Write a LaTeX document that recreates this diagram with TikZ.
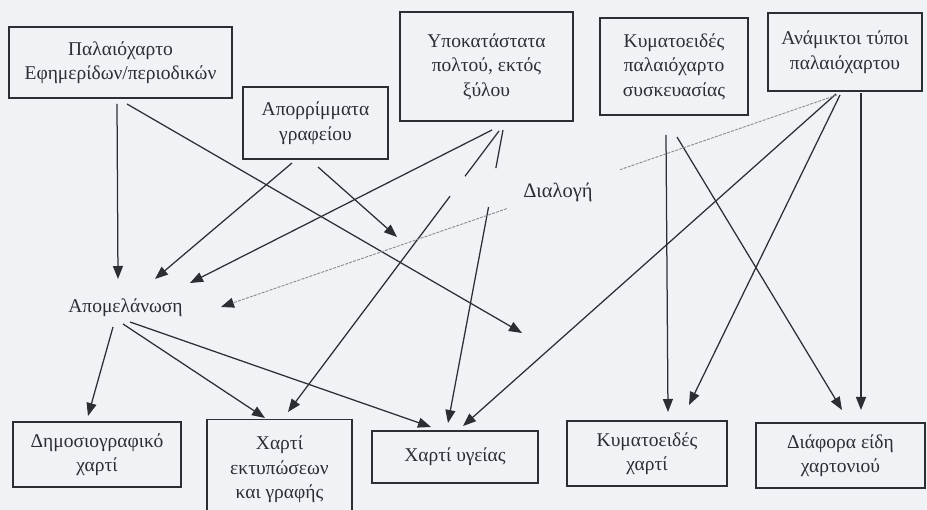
\documentclass[tikz,border=0pt]{standalone}
\usepackage{fontspec}
\setmainfont{Liberation Serif}
\usetikzlibrary{arrows.meta,calc}
\definecolor{bg}{RGB}{241,242,246}
\definecolor{ink}{RGB}{45,45,52}
\begin{document}
\begin{tikzpicture}[x=1pt,y=-1pt,
  box/.style={draw=ink,line width=1.4pt,rectangle,inner sep=0pt,align=center,text=ink,font=\fontsize{19.5}{24.5}\selectfont},
  lbl/.style={inner sep=0pt,text=ink,font=\fontsize{19.5}{24}\selectfont},
  tip/.style={-{Triangle[length=13pt,width=10pt,color=ink]}},
  ln/.style={draw=ink,line width=1.25pt},
  arr/.style={ln,tip},
  dl/.style={draw=ink!55,line width=0.9pt,dash pattern=on 3pt off 1.2pt}]
\fill[bg] (0,0) rectangle (927,510);
\useasboundingbox (0,0) rectangle (927,510);
% boxes
\node[box,minimum width=223pt,minimum height=71pt] (A) at (120.5,62.5) {Παλαιόχαρτο\\Εφημερίδων/περιοδικών};
\node[box,minimum width=145pt,minimum height=72pt] (B) at (315.5,123) {Απορρίμματα\\γραφείου};
\node[box,minimum width=173pt,minimum height=109pt] (C) at (486.5,66.5) {Υποκατάστατα\\πολτού, εκτός\\ξύλου};
\node[box,minimum width=148pt,minimum height=97pt] (D) at (674,66.5) {Κυματοειδές\\παλαιόχαρτο\\συσκευασίας};
\node[box,minimum width=154pt,minimum height=78pt] (E) at (845,52) {Ανάμικτοι τύποι\\παλαιόχαρτου};
\node[box,minimum width=168pt,minimum height=65pt] (F) at (97,454.5) {Δημοσιογραφικό\\χαρτί};
\node[box,minimum width=145pt,minimum height=100pt,anchor=north] (G) at (279.5,419) {Χαρτί\\εκτυπώσεων\\και γραφής};
\node[box,minimum width=166pt,minimum height=52pt] (H) at (455,457) {Χαρτί υγείας};
\node[box,minimum width=160pt,minimum height=65pt] (I) at (647,453.5) {Κυματοειδές\\χαρτί};
\node[box,minimum width=169pt,minimum height=65pt] (J) at (840.5,455.5) {Διάφορα είδη\\χαρτονιού};
\node[lbl] (K) at (125.5,308) {Απομελάνωση};
\node[lbl,font=\fontsize{20.5}{24}\selectfont] (L) at (558,192) {Διαλογή};
% free ends
\coordinate (p1) at (522,333);
\coordinate (p2) at (397,237);
% from A
\draw[arr] ($(A)+(-3.5,41.5)$) -- ($(K)+(-7.5,-29)$);
\draw[arr] ($(A)+(6.5,41.5)$) -- (p1);
% from B
\draw[arr] ($(B)+(-23.5,40)$) -- ($(K)+(29.5,-29)$);
\draw[arr] ($(B)+(2.5,44)$) -- (p2);
% from C
\draw[arr] ($(C)+(5.5,63.5)$) -- ($(K)+(64.5,-25)$);
\coordinate (c2) at ($(C)+(12.5,64.5)$);
\coordinate (g2) at ($(G.north)+(8.5,-7)$);
\draw[ln] (c2) -- ($(c2)!0.161!(g2)$);
\draw[arr] ($(c2)!0.232!(g2)$) -- (g2);
\coordinate (c3) at ($(C)+(16.5,63.5)$);
\coordinate (h2) at ($(H)+(-7,-34)$);
\draw[ln] (c3) -- ($(c3)!0.13!(h2)$);
\draw[arr] ($(c3)!0.263!(h2)$) -- (h2);
% from D
\draw[arr] ($(D)+(-8,68.5)$) -- ($(I)+(21,-41.5)$);
\draw[arr] ($(D)+(3,70.5)$) -- ($(J)+(1.5,-45.5)$);
% from E
\draw[arr] ($(E)+(-9,42)$) -- ($(H)+(8,-31)$);
\draw[arr] ($(E)+(-5,43)$) -- ($(I)+(42,-48.5)$);
\draw[arr] ($(E)+(16,41)$) -- ($(J)+(20.5,-45.5)$);
% dashed E -> K via Dialogi
\coordinate (e4) at ($(E)+(-8,43)$);
\coordinate (k4) at ($(K)+(95.5,-1)$);
\draw[dl] (e4) -- ($(e4)!0.352!(k4)$);
\draw[dl,tip] ($(e4)!0.536!(k4)$) -- (k4);
% from K
\draw[arr] ($(K)+(-12.5,19)$) -- ($(F)+(-9,-38.5)$);
\draw[arr] ($(K)+(-2.5,16)$) -- ($(G.north)+(-14.5,-1)$);
\draw[arr] ($(K)+(4.5,14)$) -- ($(H)+(-24,-30)$);
\end{tikzpicture}
\end{document}
